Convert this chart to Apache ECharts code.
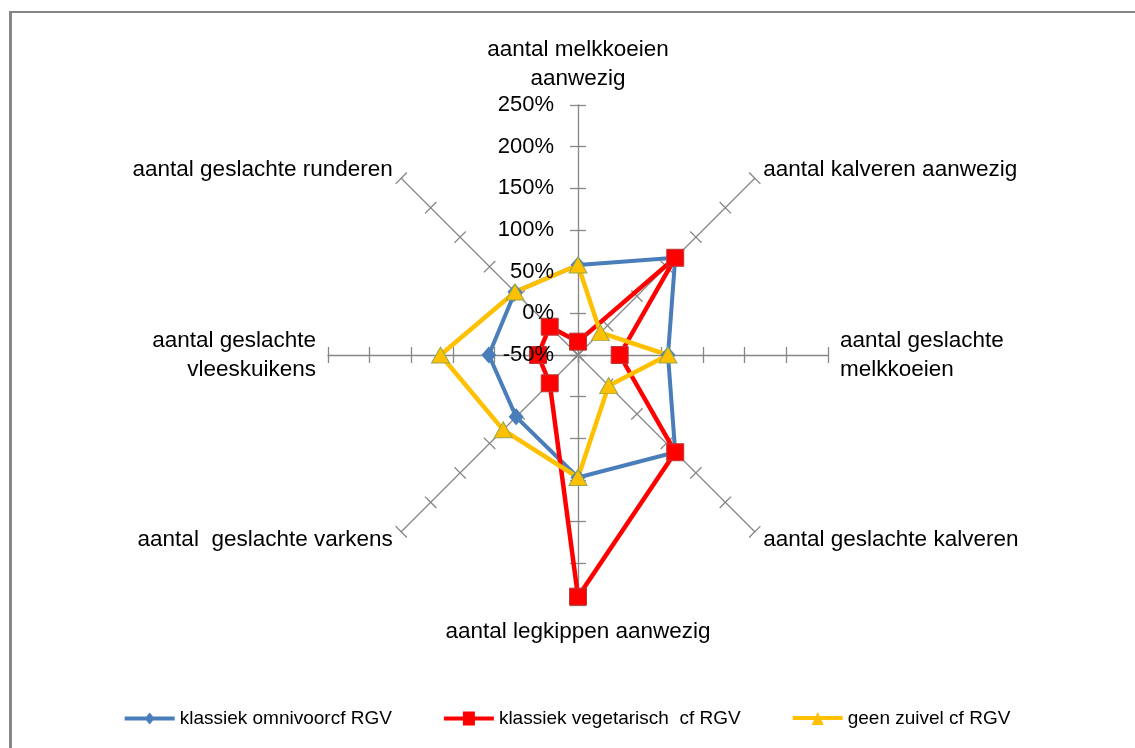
<!DOCTYPE html>
<html>
<head>
<meta charset="utf-8">
<script src="https://cdn.jsdelivr.net/npm/echarts@6/dist/echarts.min.js"></script>
<style>
  html, body { margin: 0; padding: 0; background: #fff; }
  #chart { width: 1135px; height: 748px; }
</style>
</head>
<body>
<div id="chart"></div>
<script>
// Spokes, listed clockwise starting at the top
const categories = [
  'aantal melkkoeien\naanwezig',
  'aantal kalveren aanwezig',
  'aantal geslachte\nmelkkoeien',
  'aantal geslachte kalveren',
  'aantal legkippen aanwezig',
  'aantal  geslachte varkens',
  'aantal geslachte\nvleeskuikens',
  'aantal geslachte runderen'
];

const seriesNames = ['klassiek omnivoorcf RGV', 'klassiek vegetarisch  cf RGV', 'geen zuivel cf RGV'];

// Change in percent, same spoke order as categories
const omnivoor    = [58, 115, 58, 115, 97, 55, 57, 57];
const vegetarisch = [-34, 115, 0, 115, 240, -2, -2, -2];
const geenZuivel  = [58, -12, 58, 2, 97, 77, 115, 57];

const axisMin = -50;
const axisMax = 250;
const axisStep = 50;
const tickLabels = ['-50%', '0%', '50%', '100%', '150%', '200%', '250%'];

const FONT = "'Liberation Sans', Arial, sans-serif";
const AXIS_GREY = '#868686';
const COLORS = ['#4A7EBB', '#FF0000', '#FFC000'];

// ECharts lays radar spokes out counter-clockwise; reorder so they run clockwise
const spokeOrder = [0, 7, 6, 5, 4, 3, 2, 1];
const reorder = arr => spokeOrder.map(i => arr[i]);

const center = [578, 355];
const radius = 250;

function indicators(withLabels) {
  return reorder(categories).map((name, i) => ({
    name: name,
    min: axisMin,
    max: axisMax,
    axisLabel: { show: withLabels && i === 0 }
  }));
}

const tickStyle = { color: AXIS_GREY, width: 1.3 };

// Shared geometry for the stacked radar layers
function radarLayer(extra) {
  return Object.assign({
    center: center,
    radius: radius,
    startAngle: 90,
    splitNumber: (axisMax - axisMin) / axisStep,
    shape: 'polygon',
    indicator: indicators(false),
    axisName: { show: false },
    axisLine: { show: false },
    axisTick: { show: false },
    axisLabel: { show: false },
    splitLine: { show: false },
    splitArea: { show: false }
  }, extra);
}

const chart = echarts.init(document.getElementById('chart'), null, { renderer: 'canvas' });

chart.setOption({
  animation: false,
  backgroundColor: '#fff',
  graphic: [
    { type: 'line', shape: { x1: 10.5, y1: 11, x2: 10.5, y2: 748 }, style: { stroke: AXIS_GREY, lineWidth: 3 } },
    { type: 'line', shape: { x1: 9, y1: 12, x2: 1135, y2: 12 }, style: { stroke: AXIS_GREY, lineWidth: 2 } }
  ],
  legend: {
    bottom: 15,
    left: 'center',
    itemWidth: 50,
    itemHeight: 14,
    itemGap: 52,
    textStyle: { color: '#000', fontSize: 19, fontFamily: FONT },
    data: [
      { name: seriesNames[0], icon: 'path://M0,5H50V9H0Z M25,1L30,7L25,13L20,7Z', itemStyle: { color: COLORS[0], borderWidth: 0 } },
      { name: seriesNames[1], icon: 'path://M0,5H50V9H0Z M19,0H31V14H19Z', itemStyle: { color: COLORS[1], borderWidth: 0 } },
      { name: seriesNames[2], icon: 'path://M0,5H50V9H0Z M25,1L31,14H19Z', itemStyle: { color: COLORS[2], borderWidth: 0 } }
    ]
  },
  radar: [
    // spokes, spoke names and ticks on one side
    radarLayer({
      indicator: indicators(false),
      axisName: { show: true, color: '#000', fontSize: 22.5, fontFamily: FONT, lineHeight: 29 },
      nameGap: 12,
      axisLine: { show: true, lineStyle: tickStyle },
      axisTick: { show: true, length: 8, lineStyle: tickStyle }
    }),
    // ticks on the other side of each spoke
    radarLayer({
      axisTick: { show: true, length: -8, lineStyle: tickStyle }
    }),
    // percentage labels along the top spoke, above the series
    radarLayer({
      z: 10,
      indicator: indicators(true),
      axisLabel: {
        show: true,
        color: '#000',
        fontSize: 22,
        fontFamily: FONT,
        margin: 24,
        formatter: v => tickLabels[Math.round((v - axisMin) / axisStep)]
      }
    })
  ],
  series: [
    {
      type: 'radar',
      radarIndex: 0,
      symbol: 'diamond',
      symbolSize: [15, 17],
      lineStyle: { color: COLORS[0], width: 4 },
      itemStyle: { color: COLORS[0] },
      data: [{ name: seriesNames[0], value: reorder(omnivoor) }]
    },
    {
      type: 'radar',
      radarIndex: 0,
      symbol: 'rect',
      symbolSize: 17,
      lineStyle: { color: COLORS[1], width: 4.5 },
      itemStyle: { color: COLORS[1], borderColor: '#B83B3B', borderWidth: 1 },
      data: [{ name: seriesNames[1], value: reorder(vegetarisch) }]
    },
    {
      type: 'radar',
      radarIndex: 0,
      symbol: 'triangle',
      symbolSize: [18, 16],
      lineStyle: { color: COLORS[2], width: 4.5 },
      itemStyle: { color: COLORS[2], borderColor: '#9BA84A', borderWidth: 1 },
      data: [{ name: seriesNames[2], value: reorder(geenZuivel) }]
    }
  ]
});
</script>
</body>
</html>
